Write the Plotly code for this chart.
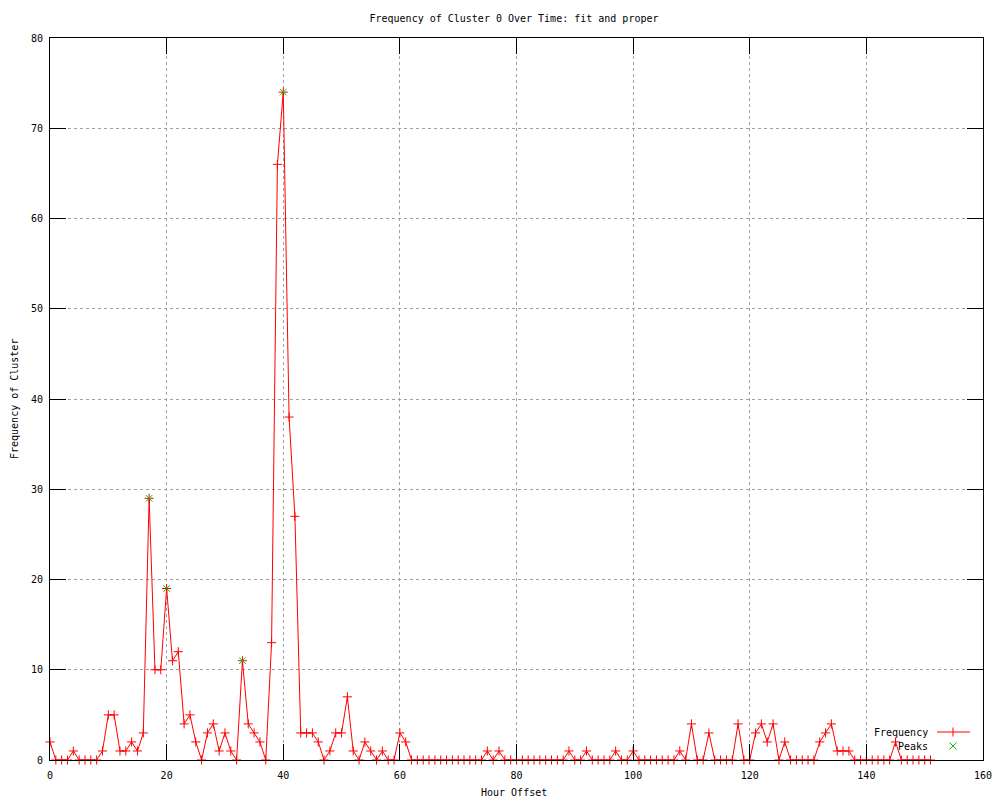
import plotly.graph_objects as go

# ---- data ----
hours = list(range(0, 152))
frequency = [
    2, 0, 0, 0, 1, 0, 0, 0, 0, 1,      # 0-9
    5, 5, 1, 1, 2, 1, 3, 29, 10, 10,   # 10-19
    19, 11, 12, 4, 5, 2, 0, 3, 4, 1,   # 20-29
    3, 1, 0, 11, 4, 3, 2, 0, 13, 66,   # 30-39
    74, 38, 27, 3, 3, 3, 2, 0, 1, 3,   # 40-49
    3, 7, 1, 0, 2, 1, 0, 1, 0, 0,      # 50-59
    3, 2, 0, 0, 0, 0, 0, 0, 0, 0,      # 60-69
    0, 0, 0, 0, 0, 1, 0, 1, 0, 0,      # 70-79
    0, 0, 0, 0, 0, 0, 0, 0, 0, 1,      # 80-89
    0, 0, 1, 0, 0, 0, 0, 1, 0, 0,      # 90-99
    1, 0, 0, 0, 0, 0, 0, 0, 1, 0,      # 100-109
    4, 0, 0, 3, 0, 0, 0, 0, 4, 0,      # 110-119
    0, 3, 4, 2, 4, 0, 2, 0, 0, 0,      # 120-129
    0, 0, 2, 3, 4, 1, 1, 1, 0, 0,      # 130-139
    0, 0, 0, 0, 0, 2, 0, 0, 0, 0,      # 140-149
    0, 0,                              # 150-151
]
peak_hours = [17, 20, 33, 40]
peak_values = [29, 19, 11, 74]

x_ticks = [0, 20, 40, 60, 80, 100, 120, 140, 160]
y_ticks = [0, 10, 20, 30, 40, 50, 60, 70, 80]

title_text = "Frequency of Cluster 0 Over Time: fit and proper"
x_title = "Hour Offset"
y_title = "Frequency of Cluster"
series_names = ["Frequency", "Peaks"]

RED = "#ff0000"
GREEN = "#00c000"
FONT = dict(family="DejaVu Sans Mono, Liberation Mono, monospace", size=10, color="black")

fig = go.Figure()
fig.add_trace(go.Scatter(
    x=hours, y=frequency, mode="lines+markers", name=series_names[0],
    line=dict(color=RED, width=1),
    marker=dict(symbol="cross-thin", size=6.5, line=dict(color=RED, width=1), color=RED),
    cliponaxis=False, showlegend=False,
))
fig.add_trace(go.Scatter(
    x=peak_hours, y=peak_values, mode="markers", name=series_names[1],
    marker=dict(symbol="x-thin", size=6.5, line=dict(color=GREEN, width=1), color=GREEN),
    cliponaxis=False, showlegend=False,
))

L, R, T, B = 50, 17, 38, 40
W, H = 1000, 800
pw, ph = W - L - R, H - T - B

def px2paper_x(px):
    return (px - L) / pw

def px2paper_y(py):
    return (H - B - py) / ph

axis_common = dict(
    showline=True, linecolor="black", linewidth=1, mirror="ticks",
    ticks="inside", ticklen=16, tickwidth=1, tickcolor="black",
    showgrid=True, gridcolor="#a0a0a0", griddash="3px,3px", gridwidth=1,
    zeroline=False, tickfont=FONT, layer="above traces", automargin=False,
)

fig.update_xaxes(range=[0, 160], tickvals=x_ticks, ticktext=[str(v) for v in x_ticks],
                 ticklabelstandoff=6, **axis_common)
fig.update_yaxes(range=[0, 80], tickvals=y_ticks, ticktext=[str(v) for v in y_ticks],
                 ticklabelstandoff=4, **axis_common)

# legend (gnuplot style: text on the left, sample on the right)
legend_text_right = px2paper_x(930)
row1 = px2paper_y(732)
row2 = px2paper_y(746)
sample_x0, sample_x1, sample_c = px2paper_x(937), px2paper_x(970), px2paper_x(953)
dy = 4.5 / ph
dxs = 3.5 / pw
dys = 3.5 / ph

annotations = [
    dict(text=series_names[0], x=legend_text_right, y=row1, xref="paper", yref="paper",
         xanchor="right", yanchor="middle", showarrow=False, font=FONT),
    dict(text=series_names[1], x=legend_text_right, y=row2, xref="paper", yref="paper",
         xanchor="right", yanchor="middle", showarrow=False, font=FONT),
    # axis titles
    dict(text=x_title, x=px2paper_x(514), y=px2paper_y(793), xref="paper", yref="paper",
         xanchor="center", yanchor="middle", showarrow=False, font=FONT),
    dict(text=y_title, x=px2paper_x(14), y=px2paper_y(399), xref="paper", yref="paper",
         xanchor="center", yanchor="middle", showarrow=False, font=FONT, textangle=-90),
]
shapes = [
    dict(type="line", xref="paper", yref="paper", x0=sample_x0, x1=sample_x1, y0=row1, y1=row1,
         line=dict(color=RED, width=1)),
    dict(type="line", xref="paper", yref="paper", x0=sample_c, x1=sample_c, y0=row1 - dy, y1=row1 + dy,
         line=dict(color=RED, width=1)),
    dict(type="line", xref="paper", yref="paper", x0=sample_c - dxs, x1=sample_c + dxs,
         y0=row2 - dys, y1=row2 + dys, line=dict(color=GREEN, width=1)),
    dict(type="line", xref="paper", yref="paper", x0=sample_c - dxs, x1=sample_c + dxs,
         y0=row2 + dys, y1=row2 - dys, line=dict(color=GREEN, width=1)),
]

fig.update_layout(
    width=W, height=H, autosize=False,
    margin=dict(l=L, r=R, t=T, b=B, pad=0, autoexpand=False),
    paper_bgcolor="white", plot_bgcolor="white",
    font=FONT,
    title=dict(text=title_text, x=514 / W, xanchor="center", y=1 - 18 / H, yanchor="middle",
               xref="container", yref="container", font=FONT),
    annotations=annotations, shapes=shapes,
    showlegend=False,
)

fig.write_html("out.html", config={"displayModeBar": False},
               post_script="document.body.style.margin='0px';")
